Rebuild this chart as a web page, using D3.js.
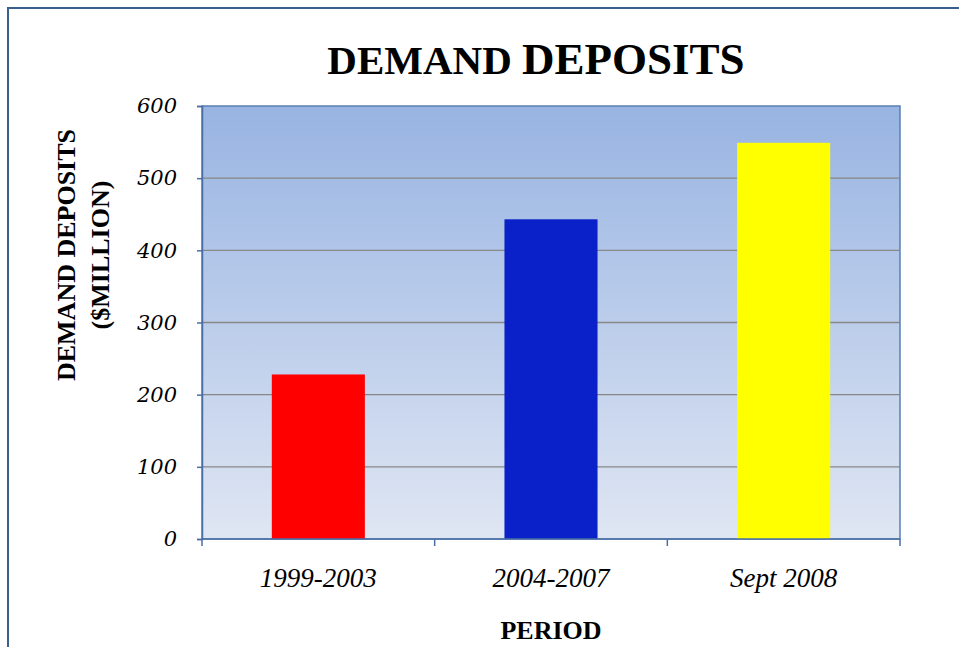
<!DOCTYPE html>
<html>
<head>
<meta charset="utf-8">
<script src="https://cdn.jsdelivr.net/npm/d3@7"></script>
<style>
  body { margin: 0; background: #fff; }
</style>
</head>
<body>
<div class="container"></div>
<script>
// Data
const periods = ["1999-2003", "2004-2007", "Sept 2008"]
const deposits = [228, 443, 549]
const barColors = ["#ff0000", "#0a20c8", "#ffff00"]
const yTicks = [0, 100, 200, 300, 400, 500, 600]

let outerWidth = 959
let outerHeight = 647
let margin = {top: 106, bottom: 108, left: 202, right: 59}
let width = outerWidth - margin.left - margin.right
let height = outerHeight - margin.top - margin.bottom

const svg = d3.select(".container")
    .append("svg")
    .attr("width", outerWidth)
    .attr("height", outerHeight)

// Outer chart frame
svg.append("rect")
    .attr("x", 8).attr("y", 8)
    .attr("width", outerWidth + 10).attr("height", outerHeight + 10)
    .attr("fill", "none")
    .attr("stroke", "#3a5f8d")
    .attr("stroke-width", 2)

// Gradient for plot area
const grad = svg.append("defs").append("linearGradient")
    .attr("id", "bg").attr("x1", 0).attr("y1", 0).attr("x2", 0).attr("y2", 1)
grad.append("stop").attr("offset", "0%").attr("stop-color", "#98b4e2")
grad.append("stop").attr("offset", "100%").attr("stop-color", "#dfe6f3")

const g = svg.append("g")
    .attr("transform", `translate(${margin.left}, ${margin.top})`)

const x = d3.scaleBand()
    .domain(periods)
    .range([0, width])
    .paddingInner(0.6)
    .paddingOuter(0.3)

const y = d3.scaleLinear()
    .domain([0, 600])
    .range([height, 0])

g.append("rect")
    .attr("width", width).attr("height", height)
    .attr("fill", "url(#bg)")
    .attr("stroke", "#5a7fb3")
    .attr("stroke-width", 1.5)

// Gridlines
g.selectAll(".grid")
    .data(yTicks.filter(d => d > 0 && d < 600))
    .join("line")
    .attr("x1", 0).attr("x2", width)
    .attr("y1", d => y(d)).attr("y2", d => y(d))
    .attr("stroke", "#878787")
    .attr("stroke-width", 1.3)

// Bars
g.selectAll(".bar")
    .data(periods)
    .join("rect")
    .attr("x", d => x(d))
    .attr("y", (d, i) => y(deposits[i]))
    .attr("width", x.bandwidth())
    .attr("height", (d, i) => height - y(deposits[i]))
    .attr("fill", (d, i) => barColors[i])

// Y axis
const yAxis = g.append("g")
    .call(d3.axisLeft(y).tickValues(yTicks).tickSize(5).tickPadding(20))
yAxis.select(".domain").attr("stroke", "#4a6fa5").attr("stroke-width", 1.5)
yAxis.selectAll(".tick line").attr("stroke", "#4a6fa5").attr("stroke-width", 1.5)
yAxis.selectAll("text")
    .attr("font-family", "'DejaVu Serif', serif")
    .attr("font-style", "italic")
    .attr("font-size", 21)
    .attr("fill", "#000")

// X axis with ticks at band edges
const xAxis = g.append("g")
    .attr("transform", `translate(0, ${height})`)
xAxis.append("line")
    .attr("x1", 0).attr("x2", width)
    .attr("stroke", "#4a6fa5").attr("stroke-width", 1.5)
const edges = periods.map(p => x(p) - x.step() * x.paddingInner() / 2).concat([width])
xAxis.selectAll(".edge")
    .data(edges)
    .join("line")
    .attr("x1", d => d).attr("x2", d => d)
    .attr("y1", 0).attr("y2", 7)
    .attr("stroke", "#4a6fa5").attr("stroke-width", 1.5)
xAxis.selectAll(".lbl")
    .data(periods)
    .join("text")
    .attr("x", d => x(d) + x.bandwidth() / 2)
    .attr("y", 48)
    .attr("text-anchor", "middle")
    .attr("font-family", "'Liberation Serif', serif")
    .attr("font-style", "italic")
    .attr("font-size", 27)
    .text(d => d)

// Title
const title = svg.append("text")
    .attr("x", 536).attr("y", 74)
    .attr("text-anchor", "middle")
    .attr("font-family", "'Liberation Serif', serif")
    .attr("font-weight", "bold")
    .attr("fill", "#000")
title.append("tspan").attr("font-size", 41).text("DEMAND ")
title.append("tspan").attr("font-size", 45).text("DEPOSITS")

// Axis titles
svg.append("text")
    .attr("x", margin.left + width / 2).attr("y", 639)
    .attr("text-anchor", "middle")
    .attr("font-family", "'Liberation Serif', serif")
    .attr("font-weight", "bold")
    .attr("font-size", 26)
    .text("PERIOD")

const yTitle = svg.append("text")
    .attr("transform", "translate(75, 255) rotate(-90)")
    .attr("text-anchor", "middle")
    .attr("font-family", "'Liberation Serif', serif")
    .attr("font-weight", "bold")
    .attr("font-size", 26)
yTitle.append("tspan").attr("x", 0).attr("dy", 0).text("DEMAND DEPOSITS")
yTitle.append("tspan").attr("x", 0).attr("dy", 34).text("($MILLION)")
</script>
</body>
</html>
